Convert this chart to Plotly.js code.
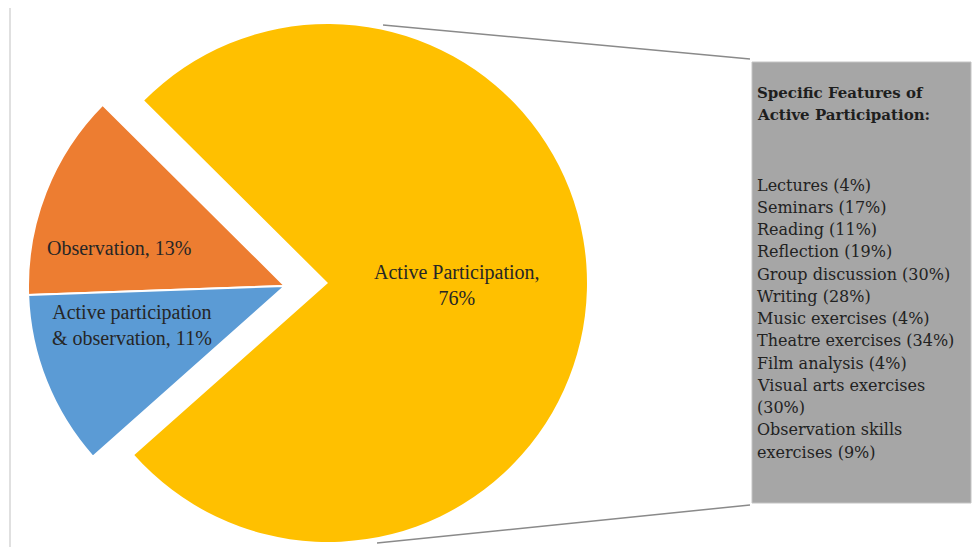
<!DOCTYPE html>
<html><head><meta charset="utf-8">
<script src="https://cdn.plot.ly/plotly-3.0.1.min.js"></script>
<style>html,body{margin:0;padding:0;background:#fff;}#chart{width:976px;height:547px;}</style>
</head><body><div id="chart"></div>
<script>
// ---- data ----
const categories = ['Observation', 'Active participation & observation', 'Active Participation'];
const shares = [13, 11, 76];
const boxTitle = 'Specific Features of Active Participation:';
const features = ['Lectures', 'Seminars', 'Reading', 'Reflection', 'Group discussion', 'Writing',
  'Music exercises', 'Theatre exercises', 'Film analysis', 'Visual arts exercises', 'Observation skills exercises'];
const featureShares = [4, 17, 11, 19, 30, 28, 4, 34, 4, 30, 9];

// ---- styling / layout ----
const sliceColors = ['#ED7D31', '#5B9BD5', '#FFC000'];
const W = 976, H = 547;
const px = x => x / W;
const py = y => 1 - y / H;
function wrap(s, n) {
  const words = s.split(' '); const lines = []; let cur = '';
  for (const w of words) {
    const t = cur ? cur + ' ' + w : w;
    if (t.length > n && cur) { lines.push(cur); cur = w; } else cur = t;
  }
  if (cur) lines.push(cur);
  return lines;
}
const CLEAR = 'rgba(0,0,0,0)';
const bigIdx = shares.indexOf(Math.max(...shares));

function pieTrace(showBig, cx, cy, r) {
  return {
    type: 'pie', labels: categories, values: shares, sort: false,
    direction: 'counterclockwise', rotation: -92,
    marker: {
      colors: sliceColors.map((c, i) => ((i === bigIdx) === showBig ? c : CLEAR)),
      line: { color: '#ffffff', width: shares.map((v, i) => (showBig || i === bigIdx) ? 0 : 2) }
    },
    textinfo: 'none', hoverinfo: 'label+percent', showlegend: false,
    domain: { x: [px(cx - r), px(cx + r)], y: [py(cy + r), py(cy - r)] }
  };
}

const traces = [
  pieTrace(true, 328, 283, 259),   // main (separated) slice
  pieTrace(false, 285, 286, 257)   // the two smaller slices
];

const labelFont = { family: 'Liberation Serif, Times New Roman, serif', size: 20, color: '#262626' };
const labelPos = [[119, 248], [132, 325], [457, 285]];
const annotations = categories.map((c, i) => ({
  xref: 'paper', yref: 'paper', x: px(labelPos[i][0]), y: py(labelPos[i][1]),
  xanchor: 'center', yanchor: 'middle', showarrow: false, align: 'center',
  text: wrap(c + ', ' + shares[i] + '%', 21).join('<br>'), font: labelFont
}));

// box text
const boxLeft = 755;
const titleLines = wrap(boxTitle, 24);
titleLines.forEach((t, i) => annotations.push({
  xref: 'paper', yref: 'paper', x: px(boxLeft), y: py(93 + i * 22), xanchor: 'left', yanchor: 'middle',
  showarrow: false, text: '<b>' + t + '</b>',
  font: { family: 'DejaVu Serif, serif', size: 15, color: '#1e1e1e' }
}));
let listLines = [];
features.forEach((f, i) => { listLines = listLines.concat(wrap(f + ' (' + featureShares[i] + '%)', 24)); });
listLines.forEach((t, i) => annotations.push({
  xref: 'paper', yref: 'paper', x: px(boxLeft), y: py(185 + i * 22.25), xanchor: 'left', yanchor: 'middle',
  showarrow: false, text: t,
  font: { family: 'DejaVu Serif, serif', size: 16, color: '#222222' }
}));

const shapes = [
  { type: 'line', xref: 'paper', yref: 'paper', x0: px(10), y0: py(8), x1: px(10), y1: py(547), line: { color: '#d6d6d6', width: 1.5 } },
  { type: 'rect', xref: 'paper', yref: 'paper', x0: px(752), x1: px(971), y0: py(503), y1: py(62), fillcolor: '#A6A6A6', line: { color: '#c4c4c4', width: 1 }, layer: 'below' },
  { type: 'line', xref: 'paper', yref: 'paper', x0: px(383), y0: py(25), x1: px(750), y1: py(59), line: { color: '#8a8a8a', width: 1.5 } },
  { type: 'line', xref: 'paper', yref: 'paper', x0: px(377), y0: py(543), x1: px(750), y1: py(505), line: { color: '#8a8a8a', width: 1.5 } }
];

const layout = {
  width: W, height: H, margin: { l: 0, r: 0, t: 0, b: 0, pad: 0 },
  paper_bgcolor: '#ffffff', plot_bgcolor: '#ffffff', showlegend: false,
  annotations: annotations, shapes: shapes
};
Plotly.newPlot('chart', traces, layout, { displayModeBar: false, responsive: false });
</script>
</body></html>
